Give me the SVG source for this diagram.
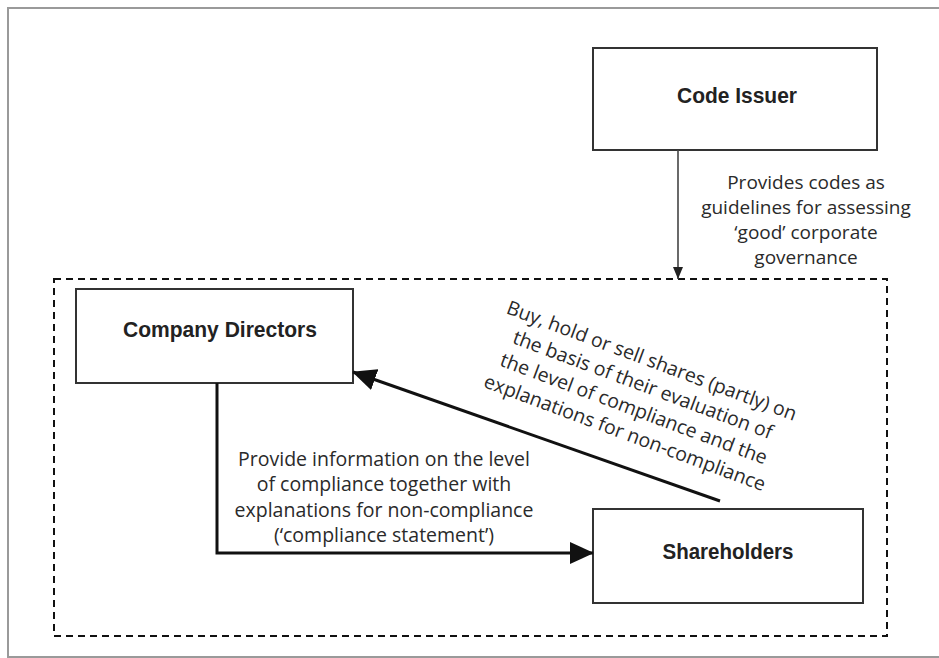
<svg xmlns="http://www.w3.org/2000/svg" width="939" height="658" viewBox="0 0 939 658">
  <defs>
    <style>
      .box { fill: #ffffff; stroke: #333333; stroke-width: 2; }
      .title { font-family: "Liberation Sans", Arial, sans-serif; font-weight: bold; font-size: 22px; fill: #222222; text-anchor: middle; }
      .label { font-family: "Open Sans", "Noto Sans", sans-serif; font-size: 19.5px; fill: #2a2a2a; text-anchor: middle; }
      .label-sm { font-family: "Open Sans", "Noto Sans", sans-serif; font-size: 19px; fill: #2a2a2a; text-anchor: middle; }
      .conn { fill: none; stroke: #111111; stroke-width: 3; }
      .thin { fill: none; stroke: #444444; stroke-width: 1.6; }
    </style>
    <marker id="bigArrow" markerUnits="userSpaceOnUse" markerWidth="24" markerHeight="22" refX="23" refY="11" orient="auto">
      <path d="M0,0 L24,11 L0,22 Z" fill="#111111"/>
    </marker>
    <marker id="smallArrow" markerUnits="userSpaceOnUse" markerWidth="12" markerHeight="10" refX="12" refY="5" orient="auto">
      <path d="M0,0 L12,5 L0,10 Z" fill="#222222"/>
    </marker>
  </defs>

  <rect width="939" height="658" fill="#ffffff"/>

  <!-- outer frame -->
  <polyline points="939,8 8,8 8,657 939,657" fill="none" stroke="#9a9a9a" stroke-width="2"/>

  <!-- dashed boundary -->
  <rect x="54" y="279" width="833" height="357" fill="none" stroke="#111111" stroke-width="2" stroke-dasharray="7 5"/>

  <g id="code-issuer">
    <rect class="box" x="593" y="48" width="284" height="102" stroke="#555555"/>
    <text class="title" x="737" y="103" textLength="120" lengthAdjust="spacingAndGlyphs">Code Issuer</text>
  </g>

  <g id="company-directors">
    <rect class="box" x="76" y="289" width="277" height="94" stroke="#111111"/>
    <text class="title" x="220" y="337" textLength="194" lengthAdjust="spacingAndGlyphs">Company Directors</text>
  </g>

  <g id="shareholders">
    <rect class="box" x="593" y="509" width="270" height="94" stroke="#555555"/>
    <text class="title" x="728" y="559" textLength="131" lengthAdjust="spacingAndGlyphs">Shareholders</text>
  </g>

  <g id="connectors">
    <line class="thin" x1="678" y1="150" x2="678" y2="279" marker-end="url(#smallArrow)"/>
    <polyline class="conn" points="217,383 217,553 593,553" marker-end="url(#bigArrow)"/>
    <line class="conn" x1="720" y1="501" x2="353" y2="372" marker-end="url(#bigArrow)"/>
  </g>

  <g id="labels">
    <text class="label-sm" x="806" y="189">Provides codes as</text>
    <text class="label-sm" x="806" y="214">guidelines for assessing</text>
    <text class="label-sm" x="806" y="239">‘good’ corporate</text>
    <text class="label-sm" x="806" y="264">governance</text>

    <text class="label" x="384" y="466">Provide information on the level</text>
    <text class="label" x="384" y="491">of compliance together with</text>
    <text class="label" x="384" y="517">explanations for non-compliance</text>
    <text class="label" x="384" y="542">(‘compliance statement’)</text>

    <g transform="translate(636,403) rotate(20.5)">
      <text class="label" x="0" y="-38.5">Buy, hold or sell shares (partly) on</text>
      <text class="label" x="0" y="-12.8">the basis of their evaluation of</text>
      <text class="label" x="0" y="12.8">the level of compliance and the</text>
      <text class="label" x="0" y="38.5">explanations for non-compliance</text>
    </g>
  </g>
</svg>
